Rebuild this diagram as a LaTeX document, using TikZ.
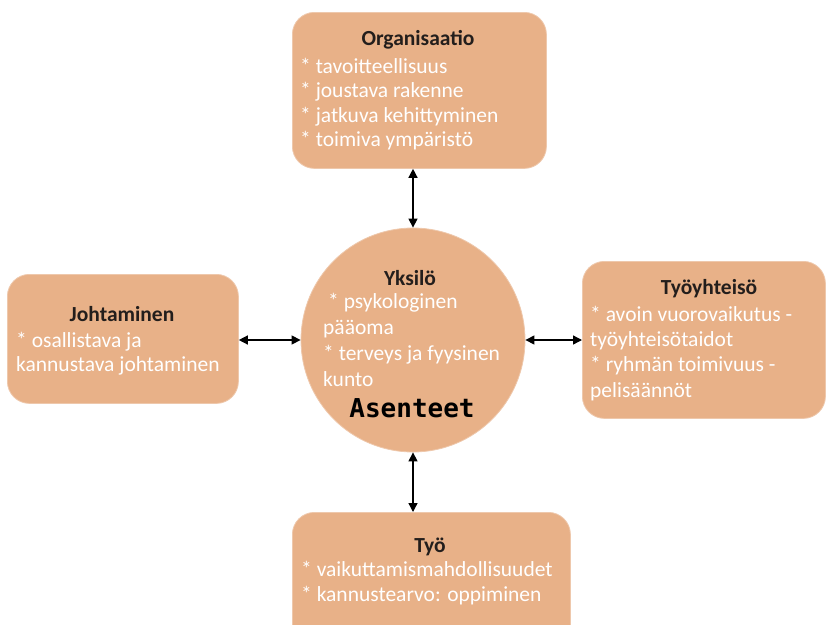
\documentclass[tikz,border=0pt]{standalone}
\usepackage{fontspec}
\setmainfont{Carlito}
\newfontfamily\asfont{DejaVu Sans Mono}
\usetikzlibrary{arrows.meta}
\definecolor{boxfill}{RGB}{232,177,136}
\definecolor{boxedge}{RGB}{238,200,172}
\definecolor{ttlcol}{RGB}{35,30,28}
\begin{document}
\begin{tikzpicture}[x=1pt,y=-1pt,
  box/.style={fill=boxfill, draw=boxedge, line width=0.8pt, rounded corners=22pt, inner sep=0pt},
  ttl/.style={text=ttlcol, font=\fontsize{21.5}{25}\selectfont\bfseries, anchor=base, inner sep=0pt},
  itm/.style={text=white, font=\fontsize{21.5}{25}\selectfont, anchor=base west, inner sep=0pt},
  conn/.style={{Triangle[length=9pt,width=9pt]}-{Triangle[length=9pt,width=9pt]}, line width=1.3pt, black}]
\useasboundingbox (0,0) rectangle (826,624);
% shapes
\node[box, minimum width=254pt, minimum height=156pt, anchor=north west] (org) at (292,12) {};
\node[box, minimum width=231pt, minimum height=129pt, anchor=north west] (joh) at (7,274) {};
\node[box, minimum width=243pt, minimum height=157pt, anchor=north west] (tyy) at (582,261) {};
\node[box, minimum width=278pt, minimum height=140pt, anchor=north west] (tyo) at (292,512) {};
\node[circle, fill=boxfill, draw=boxedge, line width=0.8pt, minimum size=224pt, inner sep=0pt] (yks) at (413,340) {};
% connectors
\draw[conn] (yks.north) -- (org.south -| yks.north);
\draw[conn] (yks.west) -- (joh.east |- yks.west);
\draw[conn] (yks.east) -- (tyy.west |- yks.east);
\draw[conn] (yks.south) -- (tyo.north -| yks.south);
% Organisaatio
\node[ttl] (orgT) at (418,45) {Organisaatio};
\node[itm] (orgA) at (300,73) {* tavoitteellisuus};
\node[itm] (orgB) at (300,97) {* joustava rakenne};
\node[itm] (orgC) at (300,122) {* jatkuva kehittyminen};
\node[itm] (orgD) at (300,146) {* toimiva ympäristö};
% Johtaminen
\node[ttl] (johT) at (122,321) {Johtaminen};
\node[itm] (johA) at (16,347) {* osallistava ja};
\node[itm] (johB) at (16,371) {kannustava johtaminen};
% Tyoyhteiso
\node[ttl] (tyyT) at (709,294) {Työyhteisö};
\node[itm] (tyyA) at (590,321) {* avoin vuorovaikutus -};
\node[itm] (tyyB) at (590,346) {työyhteisötaidot};
\node[itm] (tyyC) at (590,371) {* ryhmän toimivuus -};
\node[itm] (tyyD) at (590,397) {pelisäännöt};
% Tyo
\node[ttl] (tyoT) at (430,552) {Työ};
\node[itm] (tyoA) at (301,576) {* vaikuttamismahdollisuudet};
\node[itm] (tyoB) at (301,601) {* kannustearvo: oppiminen};
% Yksilo
\node[ttl] (yksT) at (410,285) {Yksilö};
\node[itm] (yksA) at (328,308) {* psykologinen};
\node[itm] (yksB) at (323,334) {pääoma};
\node[itm] (yksC) at (323,360) {* terveys ja fyysinen};
\node[itm] (yksD) at (323,386) {kunto};
\node[anchor=base, inner sep=0pt, text=black, font=\asfont\bfseries\fontsize{26}{30}\selectfont] (yksE) at (412,417) {Asenteet};
\end{tikzpicture}
\end{document}
